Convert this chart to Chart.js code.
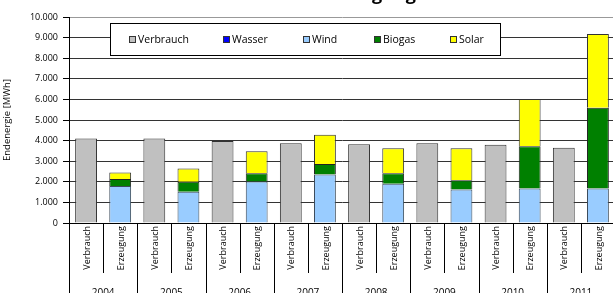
<!DOCTYPE html>
<html>
<head>
<meta charset="utf-8">
<script src="https://cdn.jsdelivr.net/npm/chart.js@4.4.1/dist/chart.umd.min.js"></script>
<style>
  html, body { margin: 0; padding: 0; background: #fff; overflow: hidden; }
</style>
</head>
<body>
<canvas id="myChart" width="615" height="293"></canvas>
<script>
    // Werte in MWh
    var years = ['2004', '2005', '2006', '2007', '2008', '2009', '2010', '2011'];
    var verbrauch = [4100, 4100, 3980, 3870, 3820, 3870, 3800, 3650];
    var wasser = [0, 0, 0, 0, 0, 0, 0, 0];
    var wind = [1800, 1520, 2020, 2350, 1910, 1630, 1670, 1670];
    var biogas = [340, 480, 400, 510, 510, 440, 2050, 3920];
    var solar = [310, 650, 1060, 1420, 1210, 1560, 2300, 3590];
    var yTicks = [0, 1000, 2000, 3000, 4000, 5000, 6000, 7000, 8000, 9000, 10000];

    var labels = [];
    var vData = [], wasData = [], windData = [], bioData = [], solData = [];
    for (let i = 0; i < years.length; i++) {
        labels.push('Verbrauch');
        labels.push('Erzeugung');
        vData.push(verbrauch[i], null);
        wasData.push(null, wasser[i]);
        windData.push(null, wind[i]);
        bioData.push(null, biogas[i]);
        solData.push(null, solar[i]);
    }

    function fmt(v) {
        return String(v).replace(/\B(?=(\d{3})+(?!\d))/g, '.');
    }

    // Kopfzeile (oben abgeschnitten)
    const titlePlugin = {
        id: 'cutTitle',
        afterDraw(chart) {
            const ctx = chart.ctx;
            ctx.save();
            ctx.font = 'bold 18px "Open Sans"';
            ctx.fillStyle = '#000';
            ctx.textAlign = 'center';
            ctx.textBaseline = 'alphabetic';
            ctx.fillText('Verbrauch und Erzeugung', 300, 0);
            ctx.restore();
        }
    };

    // Legende im Diagramm
    const legendPlugin = {
        id: 'boxLegend',
        afterDraw(chart) {
            const ctx = chart.ctx;
            const sq = [129, 223, 303, 374, 450];
            ctx.save();
            ctx.fillStyle = '#fff';
            ctx.fillRect(110, 23, 391, 32);
            ctx.strokeStyle = '#000';
            ctx.lineWidth = 1;
            ctx.strokeRect(110.5, 23.5, 390, 32);
            ctx.font = '10.5px "Open Sans"';
            ctx.textBaseline = 'middle';
            ctx.textAlign = 'left';
            chart.data.datasets.forEach(function(ds, i) {
                ctx.fillStyle = ds.backgroundColor;
                ctx.fillRect(sq[i], 36, 7, 7);
                ctx.strokeStyle = '#333';
                ctx.strokeRect(sq[i] + 0.5, 36.5, 6, 6);
                ctx.fillStyle = '#000';
                ctx.fillText(ds.label, sq[i] + 9, 40);
            });
            ctx.restore();
        }
    };

    // zweistufige Beschriftung der x-Achse
    const axisPlugin = {
        id: 'twoLevelAxis',
        afterDraw(chart) {
            const ctx = chart.ctx;
            const xs = chart.scales.x;
            const bottom = chart.chartArea.bottom;
            const half = (xs.getPixelForValue(1) - xs.getPixelForValue(0)) / 2;
            ctx.save();
            ctx.strokeStyle = '#000';
            ctx.lineWidth = 1;
            for (let i = 0; i <= labels.length; i++) {
                const bx = Math.round(xs.getPixelForValue(Math.min(i, labels.length - 1)) + (i < labels.length ? -half : half)) + 0.5;
                ctx.beginPath();
                ctx.moveTo(bx, bottom);
                ctx.lineTo(bx, i % 2 === 0 ? 293 : 273);
                ctx.stroke();
            }
            ctx.fillStyle = '#000';
            ctx.font = '9px "Open Sans"';
            for (let i = 0; i < labels.length; i++) {
                ctx.save();
                ctx.translate(xs.getPixelForValue(i) + 1, bottom + 3);
                ctx.rotate(-Math.PI / 2);
                ctx.textAlign = 'right';
                ctx.textBaseline = 'middle';
                ctx.fillText(labels[i], 0, 0);
                ctx.restore();
            }
            ctx.font = '10px "Open Sans"';
            ctx.textAlign = 'center';
            ctx.textBaseline = 'alphabetic';
            for (let j = 0; j < years.length; j++) {
                const cx = (xs.getPixelForValue(2 * j) + xs.getPixelForValue(2 * j + 1)) / 2;
                ctx.fillText(years[j], cx, 296);
            }
            ctx.restore();
        }
    };

    const ctx = document.getElementById('myChart').getContext('2d');
    var myChart = new Chart(ctx, {
        type: 'bar',
        data: {
            labels: labels,
            datasets: [{
                    label: 'Verbrauch',
                    data: vData,
                    backgroundColor: '#c0c0c0',
                    borderColor: '#333',
                    borderWidth: 1
                },
                {
                    label: 'Wasser',
                    data: wasData,
                    backgroundColor: '#0000ff',
                    borderColor: '#333',
                    borderWidth: 0
                },
                {
                    label: 'Wind',
                    data: windData,
                    backgroundColor: '#99ccff',
                    borderColor: '#3a4a5a',
                    borderWidth: 1
                },
                {
                    label: 'Biogas',
                    data: bioData,
                    backgroundColor: '#008000',
                    borderColor: '#222',
                    borderWidth: 1
                },
                {
                    label: 'Solar',
                    data: solData,
                    backgroundColor: '#ffff00',
                    borderColor: '#333',
                    borderWidth: 1
                }
            ]
        },
        options: {
            responsive: false,
            animation: false,
            devicePixelRatio: 1,
            layout: {
                padding: { top: 17, bottom: 62, left: 0, right: 0 }
            },
            plugins: {
                legend: { display: false },
                tooltip: { enabled: false }
            },
            datasets: {
                bar: {
                    categoryPercentage: 1,
                    barPercentage: 0.64,
                    skipNull: false
                }
            },
            scales: {
                x: {
                    stacked: true,
                    ticks: { display: false },
                    grid: { display: false },
                    border: { display: true, color: '#000', width: 1 }
                },
                y: {
                    stacked: true,
                    min: 0,
                    max: 10000,
                    afterBuildTicks: function(scale) {
                        scale.ticks = yTicks.map(function(v) { return { value: v }; });
                    },
                    afterFit: function(scale) {
                        scale.width = 69;
                    },
                    ticks: {
                        color: '#000',
                        padding: 5,
                        font: { family: 'Open Sans', size: 9 },
                        callback: function(v) { return fmt(v); }
                    },
                    grid: {
                        color: function(c) { return c.tick && c.tick.value === 10000 ? '#999' : '#333'; },
                        tickColor: '#000',
                        tickLength: 6,
                        lineWidth: 1
                    },
                    border: { display: true, color: '#000', width: 1 },
                    title: {
                        display: true,
                        text: 'Endenergie [MWh]',
                        color: '#000',
                        font: { family: 'Open Sans', size: 9.5 },
                        padding: { top: 2, bottom: 0 }
                    }
                }
            }
        },
        plugins: [titlePlugin, legendPlugin, axisPlugin]
    });
</script>
</body>
</html>
